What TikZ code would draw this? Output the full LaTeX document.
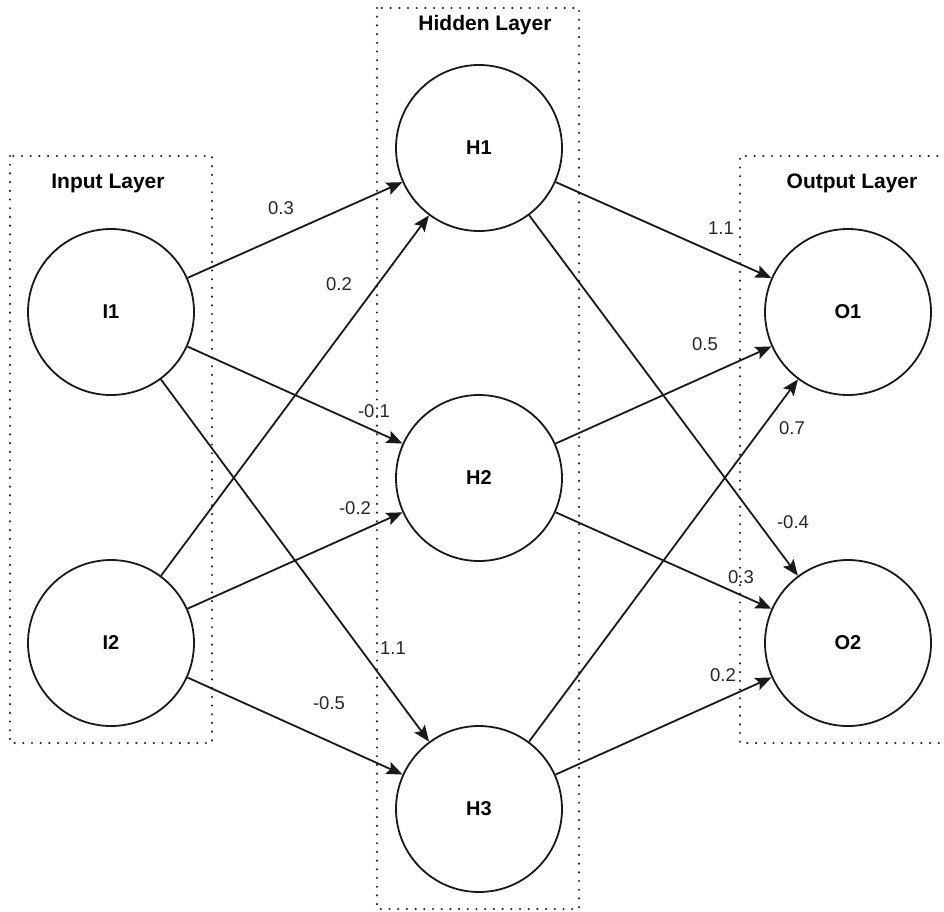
\documentclass[tikz,border=0pt]{standalone}
\usepackage{fontspec}
\setmainfont{Liberation Sans}
\usetikzlibrary{arrows.meta}
\begin{document}
\begin{tikzpicture}[x=1pt,y=-1pt,
  neuron/.style={circle,draw=black!90,line width=1.8pt,minimum size=166pt,inner sep=0pt,
    font=\fontsize{20}{24}\selectfont\bfseries},
  layerbox/.style={draw=black!85,line width=2.4pt,line cap=round,dash pattern=on 0pt off 8.7pt},
  title/.style={font=\fontsize{21}{25}\selectfont\bfseries,inner sep=0pt},
  weight/.style={font=\fontsize{18.5}{22}\selectfont,text=black!85,inner sep=0pt},
  edge/.style={draw=black!90,line width=1.8pt,-{Stealth[length=16pt,width=13pt,inset=3pt]}}]
\useasboundingbox (0,0) rectangle (944,911);

% layer frames
\draw[layerbox] (10,156) rectangle (212,743);
\draw[layerbox] (377,8) rectangle (579,909);
\draw[layerbox] (946,156) -- (740,156) -- (740,743) -- (946,743);

% layer titles
\node[title] (tin)  at (108,183) {Input Layer};
\node[title] (thid) at (485,25)  {Hidden Layer};
\node[title] (tout) at (852,183) {Output Layer};

% neurons
\node[neuron] (I1) at (111,312) {I1};
\node[neuron] (I2) at (111,643) {I2};
\node[neuron] (H1) at (479,148) {H1};
\node[neuron] (H2) at (479,478) {H2};
\node[neuron] (H3) at (479,809) {H3};
\node[neuron] (O1) at (848,312) {O1};
\node[neuron] (O2) at (848,643) {O2};

% connections
\draw[edge] (I1) -- (H1);
\draw[edge] (I1) -- (H2);
\draw[edge] (I1) -- (H3);
\draw[edge] (I2) -- (H1);
\draw[edge] (I2) -- (H2);
\draw[edge] (I2) -- (H3);
\draw[edge] (H1) -- (O1);
\draw[edge] (H1) -- (O2);
\draw[edge] (H2) -- (O1);
\draw[edge] (H2) -- (O2);
\draw[edge] (H3) -- (O1);
\draw[edge] (H3) -- (O2);

% weights
\node[weight] (w11) at (281,208) {0.3};
\node[weight] (w21) at (339,284) {0.2};
\node[weight] (w12) at (374,411) {-0.1};
\node[weight] (w22) at (355,508) {-0.2};
\node[weight] (w13) at (393,648) {1.1};
\node[weight] (w23) at (329,703) {-0.5};
\node[weight] (v11) at (721,228) {1.1};
\node[weight] (v21) at (705,344) {0.5};
\node[weight] (v31) at (792,428) {0.7};
\node[weight] (v12) at (793,522) {-0.4};
\node[weight] (v22) at (741,577) {0.3};
\node[weight] (v32) at (723,675) {0.2};
\end{tikzpicture}
\end{document}
